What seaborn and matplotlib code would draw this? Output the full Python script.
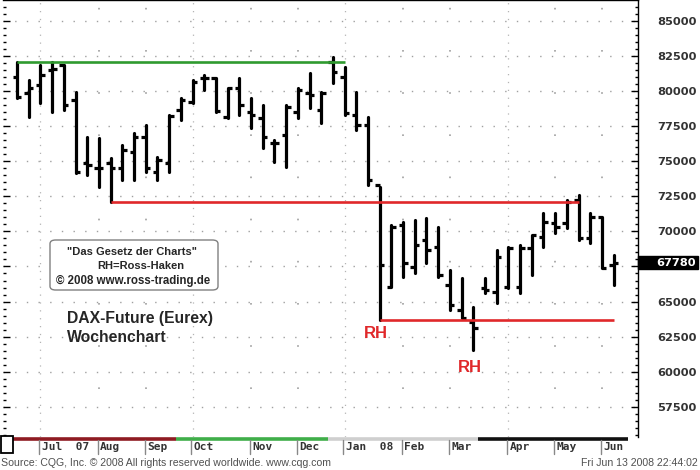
import pandas as pd
import seaborn as sns
import matplotlib.pyplot as plt
from matplotlib.ticker import MultipleLocator, FuncFormatter
from matplotlib.patches import Rectangle, FancyBboxPatch

# weekly DAX-Future bars, week of Jun 18 2007 .. week of Jun 9 2008
highs = [82080, 80780, 81850, 82080, 81850, 79940, 76740, 76650, 75220, 76150,
         77000, 77570, 75300, 78290, 79500, 80780, 81130, 80920, 80210, 80920,
         79500, 79000, 76510, 79000, 80210, 81280, 79920, 82420, 81700, 79920,
         78140, 73160, 70450, 70670, 70810, 70950, 70310, 67250, 66680, 64620,
         66680, 68670, 68890, 69030, 69740, 71310, 71310, 72230, 72590, 71310,
         71020, 68320]
lows = [79480, 78160, 79140, 78520, 78640, 74160, 74010, 73160, 72090, 73660,
        73660, 74230, 73660, 74230, 77930, 79140, 80070, 78500, 78070, 78290,
        77360, 75940, 74940, 74580, 78070, 78780, 77720, 80560, 78290, 77220,
        73300, 63690, 66040, 66750, 67040, 67750, 66750, 64400, 63830, 61550,
        65610, 64900, 65970, 65610, 66890, 68890, 69880, 70240, 69390, 69170,
        67390, 66180]
opens = [81010, 79850, 80420, 81490, 81850, 79350, 74870, 74510, 74870, 74510,
         75650, 76720, 74230, 74870, 78640, 79210, 80920, 80920, 78140, 80210,
         78500, 78070, 76290, 76860, 78500, 79850, 78640, 82060, 80990, 78290,
         77570, 73300, 66040, 70450, 67460, 69390, 68890, 66180, 64400, 63550,
         65970, 65680, 66040, 66040, 68820, 69600, 70600, 70600, 72230, 69530,
         71020, 67610]
closes = [79590, 80210, 81130, 81560, 79000, 74250, 74730, 74510, 74510, 75790,
          76720, 74510, 75080, 78210, 79350, 80640, 80920, 78570, 80210, 79000,
          78290, 76720, 76290, 78860, 80070, 79710, 79850, 81350, 78430, 77570,
          73660, 67610, 70310, 67750, 69030, 68670, 66890, 64760, 63830, 63120,
          65830, 68180, 68820, 68820, 69740, 70670, 70310, 72090, 69530, 71020,
          67390, 67780]

month_labels = ['Jul  07', 'Aug', 'Sep', 'Oct', 'Nov', 'Dec',
                'Jan  08', 'Feb', 'Mar', 'Apr', 'May', 'Jun']
month_weeks = [2, 7, 11, 15, 20, 24, 28, 33, 37, 42, 46, 50]
quarter_labels = ['Jul  07', 'Oct', 'Jan  08', 'Apr']

# support / resistance lines: (level, first week, last week)
green_line = (82080, 0, 28)
red_lines = [(72090, 8, 48), (63690, 31, 51)]
rh_marks = [(30.7, 62760), (38.7, 60340)]

last_price = 67780

sns.set_style('white')
plt.rcParams['font.family'] = ['Liberation Sans', 'DejaVu Sans']

df = pd.DataFrame({'week': range(len(highs)), 'high': highs, 'low': lows,
                   'open': opens, 'close': closes})
bars = df.melt(id_vars='week', value_vars=['high', 'low'], value_name='price')

fig = plt.figure(figsize=(7, 4.7), dpi=100)
ax = fig.add_axes([3 / 700, 33 / 470, 635 / 700, 437 / 470])

# dotted grid
for lvl in range(57500, 85001, 2500):
    ax.axhline(lvl, color='#a0a0a0', lw=1, ls=(0, (1, 7.4)), zorder=0)
for lab, wk in zip(month_labels, month_weeks):
    if lab in quarter_labels:
        ax.axvline(wk, color='#b4b4b4', lw=0.9, ls=(0, (1, 5.3)), zorder=0)
    else:
        ax.vlines(wk, 58750, 86400, color='#a0a0a0', lw=1.2,
                  linestyles=[(0, (1, 24.3))], zorder=0)

# high-low bars
sns.lineplot(data=bars, x='week', y='price', units='week', estimator=None,
             color='black', lw=2.3, legend=False, ax=ax)
ax.hlines(df['open'], df['week'] - 0.38, df['week'], color='black', lw=2.3)
ax.hlines(df['close'], df['week'], df['week'] + 0.38, color='black', lw=2.3)

ax.hlines(green_line[0], green_line[1], green_line[2], color='#2f9a2f', lw=1.9, zorder=3)
for lvl, a, b in red_lines:
    ax.hlines(lvl, a, b, color='#e0282a', lw=1.9, zorder=3)
for x, y in rh_marks:
    ax.text(x, y, 'RH', color='#e0282a', fontsize=12, fontweight='bold',
            ha='center', va='center')

ax.set_xlim(-1.2, 53.08)
ax.set_ylim(55360, 86470)
ax.set_xlabel('')
ax.set_ylabel('')
ax.set_xticks([])

# the 67500 label sits under the last-price box
ax.yaxis.set_major_locator(MultipleLocator(2500))
ax.yaxis.set_minor_locator(MultipleLocator(500))
ax.yaxis.set_major_formatter(FuncFormatter(lambda v, p: '' if v == 67500 else f'{v:.0f}'))
ax.tick_params(axis='y', which='both', direction='in', left=True, right=True,
               labelleft=False, labelright=True, color='black', width=1)
ax.tick_params(axis='y', which='major', length=5, pad=13.5)
ax.tick_params(axis='y', which='minor', length=2.5)
for t in ax.get_yticklabels():
    t.set_fontfamily('DejaVu Sans')
    t.set_fontweight('bold')
    t.set_fontsize(8.2)
    t.set_color('#333333')

for side in ['left', 'bottom']:
    ax.spines[side].set_visible(False)
for side in ['top', 'right']:
    ax.spines[side].set_color('black')
    ax.spines[side].set_linewidth(1)

# last price marker
ytr = ax.get_yaxis_transform()
ax.add_patch(Rectangle((1.0, last_price - 430), 0.095, 860, transform=ytr,
                       facecolor='black', edgecolor='black', clip_on=False, zorder=6))
ax.text(1.029, last_price, f'{last_price}', transform=ytr, color='white',
        fontfamily='DejaVu Sans', fontweight='bold', fontsize=8.2,
        ha='left', va='center', zorder=7, clip_on=False)

# colored strip along the bottom
xtr = ax.get_xaxis_transform()
strip = [(-0.34, 13.6, '#8e1b22'), (13.6, 26.6, '#3fae49'),
         (26.6, 39.4, '#cfcfcf'), (39.4, 52.2, '#111111')]
for a, b, c in strip:
    ax.plot([a, b], [-0.004, -0.004], transform=xtr, color=c, lw=2.6,
            solid_capstyle='butt', clip_on=False)

# month labels
for lab, wk in zip(month_labels, month_weeks):
    ax.plot([wk - 0.1, wk - 0.1], [-0.008, -0.04], transform=xtr,
            color='#888888', lw=1, clip_on=False)
    ax.text(wk + 0.1, -0.024, lab, transform=xtr, fontfamily='DejaVu Sans Mono',
            fontweight='bold', fontsize=8, color='#333333', ha='left', va='center')

fig.patches.append(Rectangle((0.5 / 700, 17 / 470), 12 / 700, 17 / 470,
                             transform=fig.transFigure, facecolor='white',
                             edgecolor='black', lw=1.3))

# annotation box
fig.patches.append(FancyBboxPatch((50 / 700, 180 / 470), 168 / 700, 50 / 470,
                                  boxstyle='round,pad=0,rounding_size=0.008',
                                  transform=fig.transFigure, facecolor='white',
                                  edgecolor='#808080', lw=1))
fig.text(132 / 700, 1 - 252 / 470, '"Das Gesetz der Charts"', ha='center',
         va='center', fontsize=8, fontweight='bold')
fig.text(141 / 700, 1 - 266 / 470, 'RH=Ross-Haken', ha='center', va='center',
         fontsize=8, fontweight='bold')
fig.text(133 / 700, 1 - 281 / 470, '© 2008 www.ross-trading.de', ha='center',
         va='center', fontsize=8.3, fontweight='bold')

fig.text(67 / 700, 1 - 319 / 470, 'DAX-Future (Eurex)', ha='left', va='center',
         fontsize=11.3, fontweight='bold')
fig.text(67 / 700, 1 - 337 / 470, 'Wochenchart', ha='left', va='center',
         fontsize=11.3, fontweight='bold')

fig.text(1 / 700, 1 - 463 / 470,
         'Source: CQG, Inc. © 2008 All rights reserved worldwide. www.cqg.com',
         ha='left', va='center', fontsize=7.6, color='#505050')
fig.text(698 / 700, 1 - 463 / 470, 'Fri Jun 13 2008 22:44:02', ha='right',
         va='center', fontsize=7.6, color='#505050')

plt.savefig('out.png', dpi=100)
plt.close()
